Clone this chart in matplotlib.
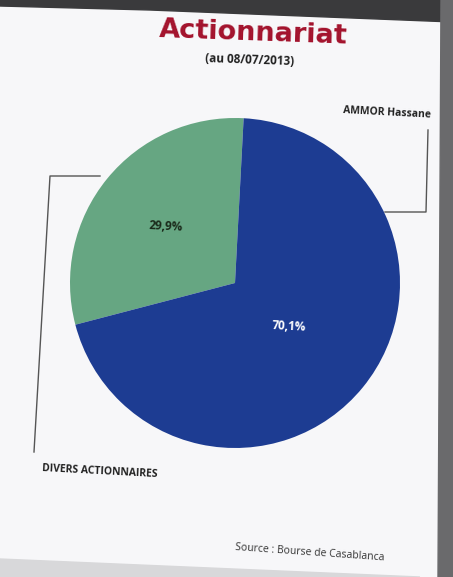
import matplotlib
matplotlib.use("Agg")
import matplotlib.pyplot as plt
import numpy as np
from matplotlib.patches import Polygon

categories = ["DIVERS ACTIONNAIRES", "AMMOR Hassane"]
values = [29.9, 70.1]
colors = ["#66a682", "#1d3c92"]
label_colors = ["#1a2a1a", "#ffffff"]
label_dist = [0.54, 0.42]

W, H = 453, 577
fig = plt.figure(figsize=(W / 100, H / 100), dpi=100)
fig.patch.set_facecolor("#f7f7f9")
ax = fig.add_axes([0, 0, 1, 1])

# photo borders (dark surroundings of the printed page)
ax.add_patch(Polygon([[0, H], [W, H], [W, H - 22], [150, H - 10], [0, H - 6]],
                     closed=True, color="#3a3a3c", zorder=0))
ax.add_patch(Polygon([[W, H], [W, 0], [438, 0], [441, H]],
                     closed=True, color="#6a6a6c", zorder=0))
ax.add_patch(Polygon([[0, 0], [420, 0], [0, 18]], closed=True, color="#d8d8da", zorder=0))

cx, cy, r = 235, H - 283, 165
wedges, _, autotexts = ax.pie(values, colors=colors, startangle=87, counterclock=True,
                              center=(cx, cy), radius=r, autopct="%1.1f%%",
                              pctdistance=0.5, frame=True,
                              wedgeprops=dict(linewidth=0))
ax.set_xlim(0, W)
ax.set_ylim(0, H)
ax.set_aspect("equal")
ax.axis("off")
for w, t, v, c, d in zip(wedges, autotexts, values, label_colors, label_dist):
    ang = np.deg2rad((w.theta1 + w.theta2) / 2)
    t.set_position((cx + d * r * np.cos(ang), cy + d * r * np.sin(ang)))
    t.set_text(f"{v:.1f}%".replace(".", ","))
    t.set_color(c)
    t.set_fontsize(8.5)
    t.set_fontweight("bold")
    t.set_family("Open Sans")
    t.set_rotation(-3)

ax.text(253, H - 33, "Actionnariat", color="#a3122c", fontsize=19.5, fontweight="bold",
        ha="center", va="center", family="DejaVu Sans", rotation=-2)
ax.text(250, H - 60, "(au 08/07/2013)", color="#222222", fontsize=8.5, fontweight="bold",
        ha="center", va="center", family="Open Sans", rotation=-2)

# leader lines
ax.plot([428, 426, 385], [H - 130, H - 212, H - 212], color="#555555", lw=1)
ax.plot([34, 50, 100], [H - 452, H - 176, H - 176], color="#555555", lw=1)

ax.text(387, H - 113, categories[1], fontsize=7.5, fontweight="bold", ha="center",
        va="center", family="Open Sans", color="#222222", rotation=-3)
ax.text(100, H - 472, categories[0], fontsize=7.5, fontweight="bold", ha="center",
        va="center", family="Open Sans", color="#222222", rotation=-3)
ax.text(310, H - 553, "Source : Bourse de Casablanca", fontsize=7.5, ha="center",
        va="center", family="Open Sans", color="#333333", rotation=-4)

fig.savefig("out.png", dpi=100, facecolor=fig.get_facecolor())
